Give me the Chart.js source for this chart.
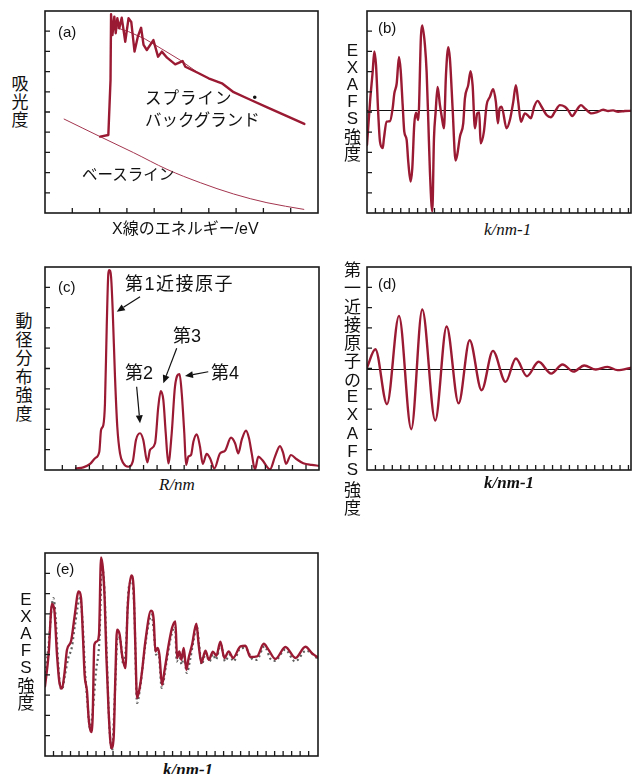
<!DOCTYPE html>
<html><head><meta charset="utf-8">
<script src="https://cdn.jsdelivr.net/npm/chart.js@4.4.0/dist/chart.umd.min.js"></script>
<style>
body{margin:0;background:#fff;}
#wrap{position:relative;width:632px;height:774px;overflow:hidden;font-family:"Liberation Sans","Noto Sans CJK JP",sans-serif;color:#111;}
canvas{position:absolute;}
.t{position:absolute;white-space:nowrap;line-height:1;}
.v{position:absolute;width:30px;text-align:center;}
.v span{display:block;overflow:visible;}
.ax{font-family:"Liberation Serif",serif;font-style:italic;}
.bold{font-weight:bold;}
</style></head><body><div id="wrap"></div>
<script>
// ---------- DATA ----------
// (a) absorption spectrum
const aBaseX = [0.70, 2.02, 3.24, 4.47, 5.69, 6.91, 8.13, 9.48];
const aBaseY = [4.65, 3.78, 2.99, 2.16, 1.50, 0.94, 0.51, 0.18];
const aAbsX = [2.02, 2.32, 2.40, 2.42, 2.47, 2.54, 2.59, 2.65, 2.72, 2.81, 2.94, 3.06, 3.16, 3.28, 3.40, 3.52, 3.61, 3.73, 3.97, 4.14, 4.28, 4.47, 4.77, 5.04, 5.14, 5.63, 5.99, 6.48, 6.91, 7.50, 8.14, 8.80, 9.50];
const aAbsY = [3.78, 3.86, 6.58, 9.84, 8.81, 9.72, 8.90, 9.64, 9.14, 9.67, 8.48, 9.64, 9.46, 7.99, 8.73, 9.17, 8.32, 8.07, 8.56, 7.74, 7.99, 7.69, 7.36, 7.52, 7.24, 6.92, 6.67, 6.42, 5.98, 5.62, 5.23, 4.83, 4.41];
const aSplX = [2.51, 3.06, 3.67, 4.28, 4.95, 5.63, 5.99, 6.48, 6.91, 7.50, 8.14, 8.80, 9.50];
const aSplY = [9.22, 8.98, 8.61, 8.12, 7.57, 6.92, 6.67, 6.42, 5.98, 5.62, 5.23, 4.83, 4.41];
// (b) EXAFS oscillation
const bK = [0, 0.36, 0.67, 0.87, 1.07, 1.34, 1.54, 1.86, 2.01, 2.33, 2.73, 3.04, 3.24, 3.52, 3.79, 3.99, 4.23, 4.42, 4.70, 4.89, 5.17, 5.37, 5.60, 5.81, 6.08, 6.40, 6.55, 6.87, 7.07, 7.27, 7.46, 7.74, 7.94, 8.14, 8.37, 8.65, 8.89, 9.12, 9.36, 9.64, 9.83, 10.15, 10.50, 10.70, 11.02, 11.41, 11.61, 12.00, 12.28, 12.52, 12.80, 13.07, 13.31, 13.47, 13.86, 14.18, 14.57, 14.96, 15.28, 15.52, 15.72, 15.96, 16.55, 16.94, 17.34, 17.65, 17.93, 18.25, 18.72, 19.11, 19.43, 19.82, 20.22, 20.70, 21.29, 21.80, 22.27, 22.87, 23.46, 23.85, 24.33, 24.85, 25.36, 25.83, 26.62, 27.21, 28.00, 28.59, 29.18, 29.77, 30.57, 31.4];
const bY = [-1.71, 0.42, 1.90, 2.92, 2.23, -0.23, -1.55, -1.87, -1.38, -0.56, -0.53, 0.10, 0.84, 1.33, 2.64, 1.99, 0.26, -1.05, -1.46, -2.53, -3.52, -2.86, -0.72, -0.12, -0.48, 3.71, 4.20, 3.22, 1.90, -0.56, -3.02, -5.0, -1.38, -0.07, 1.16, 0.26, -0.39, -0.89, 1.74, 3.13, 2.56, 0.10, -2.48, -2.20, -1.30, -0.64, 0.59, 1.25, 1.94, 1.25, -0.89, -0.15, -0.10, -1.63, -1.05, 0.26, 0.67, 1.05, 0.42, -0.64, 0.10, 0.18, -0.89, -0.48, 0.42, 1.25, 0.42, -0.56, -0.15, -0.27, -0.39, 0.18, 0.47, 0.18, -0.23, -0.34, -0.07, 0.26, 0.18, 0.01, -0.28, 0.01, 0.26, 0.10, -0.15, -0.10, 0.03, -0.03, 0, -0.07, -0.03, -0.02];
// (c) radial distribution
const cR = [1.01, 1.55, 2.05, 2.42, 2.73, 2.86, 3.03, 3.15, 3.28, 3.40, 3.47, 3.60, 3.72, 3.89, 4.06, 4.26, 4.51, 4.87, 5.20, 5.44, 5.74, 5.98, 6.28, 6.48, 6.85, 7.09, 7.27, 7.46, 7.64, 7.83, 8.08, 8.32, 8.66, 8.82, 9.01, 9.14, 9.31, 9.51, 9.68, 9.93, 10.17, 10.37, 10.66, 10.91, 11.23, 11.65, 12.02, 12.46, 12.76, 13.00, 13.25, 13.57, 13.79, 13.99, 14.23, 14.48, 14.77, 15.34, 15.71, 16.08, 16.32, 16.52, 16.89, 17.31, 17.80, 18.42, 18.96];
const cY = [0.08, 0.13, 0.30, 0.58, 0.90, 1.97, 2.22, 3.29, 7.06, 9.69, 9.85, 9.52, 7.88, 4.60, 2.13, 0.82, 0.33, 0.16, 0.41, 1.48, 1.81, 1.48, 0.38, 0.99, 1.32, 3.12, 3.89, 3.45, 1.81, 0.33, 1.81, 4.10, 4.73, 3.78, 1.81, 0.25, 0.66, 0.74, 1.39, 1.76, 1.15, 0.30, 0.79, 0.58, 0.08, 0.82, 0.95, 1.59, 1.32, 0.82, 1.48, 1.94, 1.56, 0.82, 0.03, 0.66, 0.49, 0.03, 0.66, 1.18, 0.82, 0.30, 0.74, 0.53, 0.33, 0.25, 0.21];
const cLabels = ['第1近接原子', '第2', '第3', '第4'];
const cArrowFrom = [[5.74, 8.54], [5.49, 4.10], [8.45, 6.00], [10.78, 4.84]];
const cArrowTo = [[4.02, 7.80], [5.74, 2.30], [7.46, 4.27], [9.06, 4.63]];
// (d) first-shell EXAFS (extrema)
const dK = [0.0, 0.99, 2.37, 3.79, 5.25, 6.55, 8.09, 9.44, 10.86, 12.17, 13.59, 14.93, 16.43, 17.65, 18.96, 20.34, 21.84, 23.18, 24.49, 25.75, 27.13, 28.52, 29.70, 31.4];
const dY = [0.05, 0.95, -1.76, 2.59, -2.99, 2.91, -2.56, 2.07, -1.72, 1.39, -1.07, 0.87, -0.66, 0.49, -0.38, 0.33, -0.25, 0.20, -0.15, 0.15, -0.05, 0.08, -0.08, 0.05];
// (e) experiment (solid) and fit (dotted)
const eK = [0, 0.42, 0.82, 1.09, 1.41, 1.68, 2.00, 2.27, 2.59, 3.06, 3.48, 3.95, 4.24, 4.47, 4.66, 4.94, 5.13, 5.41, 5.60, 5.80, 6.12, 6.35, 6.59, 6.82, 7.01, 7.21, 7.48, 7.80, 8.07, 8.27, 8.47, 8.78, 9.06, 9.45, 9.72, 10.15, 10.42, 10.62, 10.82, 11.13, 11.41, 11.80, 12.47, 12.78, 12.98, 13.25, 13.45, 13.76, 14.04, 14.54, 14.94, 15.33, 15.53, 15.80, 16.04, 16.31, 16.62, 16.89, 17.29, 17.80, 18.07, 18.39, 18.86, 19.27, 19.74, 20.15, 20.62, 21.09, 21.60, 22.12, 22.98, 23.56, 24.15, 24.94, 25.72, 26.27, 27.09, 28.27, 29.45, 30.62, 31.45, 32.15];
const eY = [-1.57, -0.01, 2.49, 2.21, -0.01, -1.33, -1.68, -1.0, 0.24, 0.65, 1.88, 3.11, 2.78, 0.81, -1.0, -1.82, -3.13, -3.82, -3.13, 0.48, 0.65, 0.98, 4.78, 4.18, 2.78, -0.01, -2.80, -4.61, -4.11, -1.16, 1.22, 0.98, -0.01, -0.67, 2.29, 3.90, 3.28, 0.48, -2.14, -1.65, -0.83, 0.65, 2.16, 1.71, 0.15, 0.32, -0.01, -1.49, -0.83, 0.48, 1.31, 1.63, -0.17, 0.15, -0.26, 0.32, -0.75, -0.17, 0.48, 1.52, 0.48, -0.42, 0.19, -0.26, 0.14, -0.06, 0.63, -0.17, 0.15, -0.17, 0.40, 0.43, -0.12, -0.09, 0.53, 0.24, -0.22, 0.37, -0.17, 0.38, 0.04, -0.17];
const eFitK = [0, 0.39, 0.98, 1.26, 1.49, 1.76, 2.0, 2.35, 2.74, 3.14, 3.53, 4.12, 4.44, 4.71, 4.98, 5.29, 5.61, 6.0, 6.39, 6.71, 6.98, 7.26, 7.56, 7.88, 8.2, 8.55, 8.86, 9.21, 9.53, 9.84, 10.24, 10.51, 10.82, 11.18, 11.65, 12.16, 12.55, 12.82, 13.06, 13.33, 13.73, 14.24, 14.78, 15.29, 15.49, 15.76, 16.08, 16.35, 16.67, 17.06, 17.45, 17.85, 18.12, 18.43, 18.9, 19.33, 19.76, 20.08, 20.67, 21.18, 21.68, 22.16, 22.94, 23.53, 24.51, 24.9, 25.8, 26.59, 27.06, 28.24, 29.41, 30.71, 32.2];
const eFitY = [-1.16, 0.32, 2.78, 1.80, -0.01, -1.49, -1.73, -1.0, -0.17, 0.32, 1.47, 2.78, 1.47, -0.83, -2.31, -3.62, -2.80, -0.83, 0.65, 4.34, 3.28, -0.01, -3.46, -4.74, -2.14, 0.89, 0.73, -0.50, 0.48, 3.28, 3.60, 2.12, -2.39, -1.65, -0.01, 1.47, 1.96, 0.98, -0.01, 0.15, -1.65, -0.50, 0.81, 1.38, -0.34, -0.01, -0.50, -0.01, -0.91, -0.26, 0.65, 1.38, 0.48, -0.50, 0.07, -0.34, 0.02, -0.26, 0.48, -0.34, -0.01, -0.34, 0.29, 0.32, -0.26, -0.26, 0.40, -0.26, -0.31, 0.24, -0.34, 0.19, -0.26];

// ---------- RENDER ----------
const RED = '#9b1a33';
const wrap = document.getElementById('wrap');
const PAD = 4;
const pts = (xs, ys) => xs.map((x, i) => ({x: x, y: ys[i]}));
const range = (a, b) => { const r = []; for (let i = a; i <= b; i++) r.push(i); return r; };

const framePlugin = {
  id: 'frame',
  beforeDatasetsDraw(chart, args, o) {
    const {ctx, chartArea: a, scales: {y}} = chart;
    if (o.zero) {
      const py = Math.round(y.getPixelForValue(0)) + 0.5;
      ctx.save(); ctx.strokeStyle = '#111'; ctx.lineWidth = 1;
      ctx.beginPath(); ctx.moveTo(a.left, py); ctx.lineTo(a.right, py); ctx.stroke(); ctx.restore();
    }
  },
  afterDraw(chart, args, o) {
    const {ctx, chartArea: a, scales: {x, y}} = chart;
    ctx.save();
    ctx.strokeStyle = '#1a1a1a'; ctx.lineWidth = 1.3;
    ctx.beginPath();
    (o.xTicks || []).forEach(v => { const px = x.getPixelForValue(v); ctx.moveTo(px, a.bottom); ctx.lineTo(px, a.bottom - 5); });
    const n = o.yDiv || 10;
    for (let i = 1; i < n; i++) {
      const v = y.min + i * (y.max - y.min) / n; const py = y.getPixelForValue(v);
      ctx.moveTo(a.left, py); ctx.lineTo(a.left + 5, py);
    }
    ctx.stroke();
    ctx.lineWidth = 1.6;
    ctx.strokeRect(a.left, a.top, a.right - a.left, a.bottom - a.top);
    (o.arrows || []).forEach(ar => {
      const x1 = x.getPixelForValue(ar[0][0]), y1 = y.getPixelForValue(ar[0][1]);
      const x2 = x.getPixelForValue(ar[1][0]), y2 = y.getPixelForValue(ar[1][1]);
      const ang = Math.atan2(y2 - y1, x2 - x1), L = 8, W = 3.5;
      const bx = x2 - L * Math.cos(ang), by = y2 - L * Math.sin(ang);
      ctx.lineWidth = 1.2; ctx.strokeStyle = '#111'; ctx.fillStyle = '#111';
      ctx.beginPath(); ctx.moveTo(x1, y1); ctx.lineTo(bx, by); ctx.stroke();
      ctx.beginPath(); ctx.moveTo(x2, y2);
      ctx.lineTo(bx + W * Math.sin(ang), by - W * Math.cos(ang));
      ctx.lineTo(bx - W * Math.sin(ang), by + W * Math.cos(ang));
      ctx.closePath(); ctx.fill();
    });
    ctx.restore();
  }
};

function panel(box, xr, yr, datasets, frame) {
  const c = document.createElement('canvas');
  const w = box[2] - box[0] + 2 * PAD, h = box[3] - box[1] + 2 * PAD;
  c.width = w; c.height = h;
  c.style.left = (box[0] - PAD) + 'px'; c.style.top = (box[1] - PAD) + 'px';
  c.style.width = w + 'px'; c.style.height = h + 'px';
  wrap.appendChild(c);
  new Chart(c, {
    type: 'line',
    data: {datasets: datasets},
    options: {
      responsive: false, animation: false, devicePixelRatio: 1, events: [],
      layout: {padding: PAD},
      plugins: {legend: {display: false}, tooltip: {enabled: false}, frame: frame},
      elements: {point: {radius: 0}, line: {borderJoinStyle: 'round', borderCapStyle: 'round', fill: false}},
      scales: {
        x: {type: 'linear', min: xr[0], max: xr[1], display: false},
        y: {type: 'linear', min: yr[0], max: yr[1], display: false}
      }
    },
    plugins: [framePlugin]
  });
}
const ds = (data, extra) => Object.assign({data: data, borderColor: RED, borderWidth: 2.4, cubicInterpolationMode: 'monotone', pointRadius: 0}, extra || {});

// (a)
panel([45, 11, 318, 213], [0, 10], [0, 10], [
  ds(pts(aAbsX, aAbsY), {tension: 0, cubicInterpolationMode: 'default', borderWidth: 2.4, order: 0}),
  ds(pts(aSplX, aSplY), {borderWidth: 1, borderColor: '#a3354f', tension: 0, cubicInterpolationMode: 'default', order: 1}),
  ds(pts(aBaseX, aBaseY), {borderWidth: 1, borderColor: '#a3354f', order: 2})
], {xTicks: range(1, 9)});
// (b)
panel([367, 11, 631, 213], [0, 31.3], [-5.08, 4.92], [ds(pts(bK, bY))], {xTicks: range(1, 31), zero: true});
// (c)
panel([45, 267, 319, 470], [-1.28, 18.96], [0, 10], [ds(pts(cR, cY), {borderWidth: 2.2})], {xTicks: range(0, 18), arrows: cArrowFrom.map((f, i) => [f, cArrowTo[i]])});
// (d)
panel([367, 267, 631, 470], [0, 31.3], [-5, 5], [ds(pts(dK, dY))], {xTicks: range(1, 31), zero: true});
// (e)
panel([45, 553, 318, 756], [0, 32.1], [-5, 5], [
  ds(pts(eK, eY), {order: 0}),
  ds(pts(eFitK, eFitY), {borderColor: '#606060', borderWidth: 2.2, borderDash: [2, 3], borderCapStyle: 'butt', order: 1})
], {xTicks: range(1, 31)});

// ---------- TEXT ----------
function txt(s, left, top, size, cls, ls) {
  const d = document.createElement('div'); d.className = 't ' + (cls || '');
  d.style.left = left + 'px'; d.style.top = top + 'px'; d.style.fontSize = size + 'px';
  if (ls) d.style.letterSpacing = ls + 'px';
  d.textContent = s; wrap.appendChild(d); return d;
}
function vtxt(s, cx, top, size, lh) {
  const d = document.createElement('div'); d.className = 'v';
  d.style.left = (cx - 15) + 'px'; d.style.top = top + 'px'; d.style.fontSize = size + 'px';
  for (const ch of s) {
    const sp = document.createElement('span');
    sp.style.lineHeight = lh + 'px'; sp.style.height = lh + 'px';
    if (/[\u3000-\u9fff]/.test(ch)) sp.style.fontFamily = '"Noto Sans CJK JP", sans-serif';
    sp.textContent = ch; d.appendChild(sp);
  }
  wrap.appendChild(d);
}
txt('(a)', 58, 24, 15); txt('(b)', 378, 20, 15); txt('(c)', 58, 279, 15); txt('(d)', 378, 276, 15); txt('(e)', 56, 561, 15);
const sp1 = txt('スプライン', 145, 90, 16.5, '', 1);
const dot = document.createElement('span'); dot.style.marginLeft = '14px'; dot.textContent = '・'; sp1.appendChild(dot);
txt('バックグランド', 145, 112, 16.5);
txt('ベースライン', 82, 167, 15.5);
txt('X線のエネルギー/eV', 112, 221, 16);
txt('k/nm-1', 484, 221, 17, 'ax');
txt('R/nm', 159, 476, 17, 'ax');
txt('k/nm-1', 484, 474, 17, 'ax bold');
txt('k/nm-1', 163, 761, 17, 'ax bold');
txt(cLabels[0], 125, 275, 18, '', 1.5); txt(cLabels[1], 125, 364, 18); txt(cLabels[2], 173, 327, 18); txt(cLabels[3], 211, 364, 18);
vtxt('吸光度', 20, 74, 17, 18);
vtxt('EXAFS強度', 352.5, 42, 17, 17);
vtxt('動径分布強度', 24, 311, 17, 18.5);
vtxt('第一近接原子のEXAFS強度', 352.5, 260, 17, 18.3);
vtxt('EXAFS強度', 26, 591, 17, 17);
</script></body></html>
